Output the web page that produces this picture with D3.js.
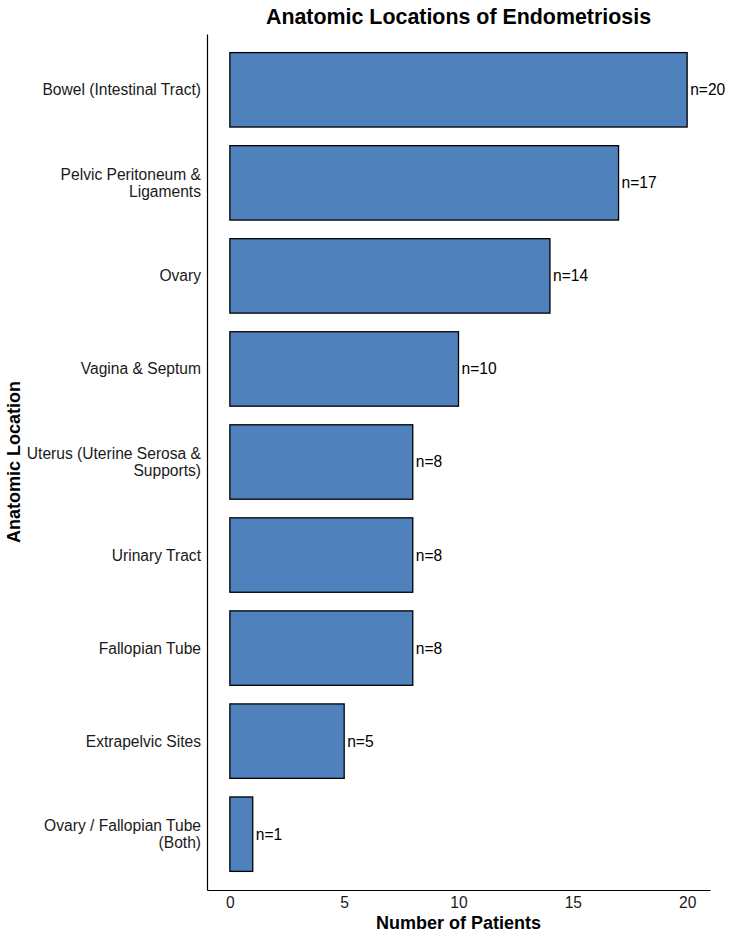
<!DOCTYPE html>
<html>
<head>
<meta charset="utf-8">
<script src="https://cdn.jsdelivr.net/npm/d3@7"></script>
<style>
  body { margin: 0; background: #fff; }
  svg { display: block; font-family: "Liberation Sans", Arial, Helvetica, sans-serif; }
</style>
</head>
<body>
<svg id="chart"></svg>
<script>
// chart data
const locations = [
    "Bowel (Intestinal Tract)",
    "Pelvic Peritoneum &\nLigaments",
    "Ovary",
    "Vagina & Septum",
    "Uterus (Uterine Serosa &\nSupports)",
    "Urinary Tract",
    "Fallopian Tube",
    "Extrapelvic Sites",
    "Ovary / Fallopian Tube\n(Both)"
];
const patients = [20, 17, 14, 10, 8, 8, 8, 5, 1];
const xTicks = [0, 5, 10, 15, 20];

const WIDTH = 750,
    HEIGHT = 938,
    PANEL = {left: 207, right: 710, top: 34, bottom: 890},
    BAR_FILL = "#4f81bd",
    TEXT_SIZE = 15.6;

const svg = d3.select("#chart")
    .attr("width", WIDTH)
    .attr("height", HEIGHT);

const x = d3.scaleLinear()
    .domain([-1, 21])
    .range([PANEL.left, PANEL.right]);

const y = d3.scaleBand()
    .domain(locations)
    .range([PANEL.top, PANEL.bottom])
    .paddingInner(0.2)
    .paddingOuter(0.2);

const rows = locations.map((name, i) => ({name, value: patients[i]}));

// bars
svg.selectAll(".bar")
    .data(rows)
    .enter()
    .append("rect")
    .attr("class", "bar")
    .attr("x", x(0))
    .attr("y", (d) => y(d.name))
    .attr("width", (d) => x(d.value) - x(0))
    .attr("height", y.bandwidth())
    .attr("fill", BAR_FILL)
    .attr("stroke", "#000")
    .attr("stroke-width", 1.3);

// value labels
svg.selectAll(".count")
    .data(rows)
    .enter()
    .append("text")
    .attr("class", "count")
    .attr("x", (d) => x(d.value) + 3)
    .attr("y", (d) => y(d.name) + y.bandwidth() / 2)
    .attr("dy", "0.35em")
    .attr("font-size", TEXT_SIZE)
    .attr("fill", "#000")
    .text((d) => "n=" + d.value);

// x axis
const xAxis = svg.append("g")
    .attr("transform", `translate(0,${PANEL.bottom})`)
    .call(d3.axisBottom(x).tickValues(xTicks).tickSize(0).tickPadding(7));
xAxis.select(".domain").attr("stroke", "#000").attr("stroke-width", 1.2);
xAxis.selectAll("text")
    .attr("font-family", null)
    .attr("font-size", TEXT_SIZE)
    .attr("fill", "#1a1a1a");

// y axis
const yAxis = svg.append("g")
    .attr("transform", `translate(${PANEL.left},0)`)
    .call(d3.axisLeft(y).tickSize(0).tickPadding(6).tickFormat(""));
yAxis.select(".domain").attr("stroke", "#000").attr("stroke-width", 1.2);

yAxis.selectAll(".tick").each(function(d) {
    const lines = d.split("\n"),
        lineHeight = 17.5,
        text = d3.select(this).append("text")
            .attr("x", -6)
            .attr("text-anchor", "end")
            .attr("font-size", TEXT_SIZE)
            .attr("fill", "#1a1a1a");
    lines.forEach((line, i) => {
        text.append("tspan")
            .attr("x", -6)
            .attr("y", (i - (lines.length - 1) / 2) * lineHeight)
            .attr("dy", "0.35em")
            .text(line);
    });
});

// titles
svg.append("text")
    .attr("x", (PANEL.left + PANEL.right) / 2)
    .attr("y", 24)
    .attr("text-anchor", "middle")
    .attr("font-size", 21.4)
    .attr("font-weight", "bold")
    .text("Anatomic Locations of Endometriosis");

svg.append("text")
    .attr("x", (PANEL.left + PANEL.right) / 2)
    .attr("y", 929)
    .attr("text-anchor", "middle")
    .attr("font-size", 18)
    .attr("font-weight", "bold")
    .text("Number of Patients");

svg.append("text")
    .attr("transform", `translate(20,${(PANEL.top + PANEL.bottom) / 2}) rotate(-90)`)
    .attr("text-anchor", "middle")
    .attr("font-size", 18)
    .attr("font-weight", "bold")
    .text("Anatomic Location");
</script>
</body>
</html>
